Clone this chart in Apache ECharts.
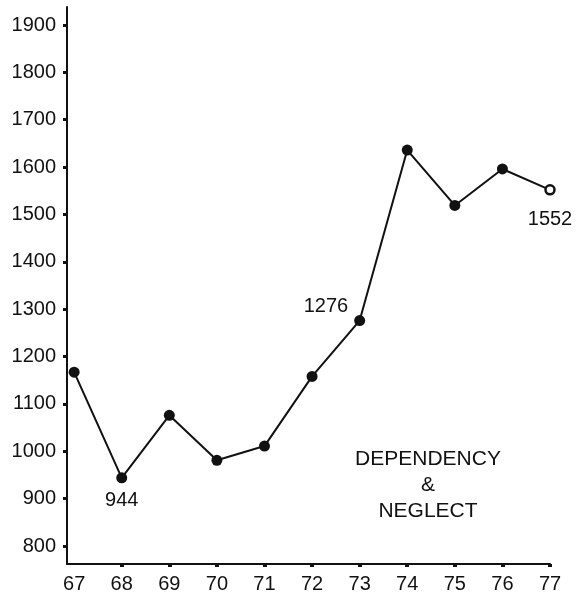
<!DOCTYPE html>
<html lang="en">
<head>
  <meta charset="UTF-8">
  <title>Dependency & Neglect</title>
  <script src="https://cdn.jsdelivr.net/npm/echarts@6/dist/echarts.min.js"></script>
</head>
<body style="margin:0;background:#fff">
<div id="main" style="width: 576px;height: 595px"></div>
<script>
  // years (x axis)
  const years = [67, 68, 69, 70, 71, 72, 73, 74, 75, 76, 77];
  // cases per year (labelled points use the printed number)
  const cases = [1167, 944, 1076, 981, 1011, 1158, 1276, 1636, 1519, 1596, 1552];
  // which points carry a printed value
  const shownLabels = ['', '944', '', '', '', '', '1276', '', '', '', '1552'];
  const yTicks = [800, 900, 1000, 1100, 1200, 1300, 1400, 1500, 1600, 1700, 1800, 1900];
  const xTickMarks = [68, 69, 70, 71, 72, 73, 74, 75, 76, 77];

  const font = '"Liberation Sans", Arial, sans-serif';
  const ink = '#111';

  const labelPos = {
    1: { position: 'bottom', distance: 7 },
    6: { position: 'left', offset: [-2, -14], distance: 4 },
    10: { position: 'bottom', distance: 14 }
  };

  const seriesData = cases.map(function (v, i) {
    const item = { value: [years[i], v] };
    if (shownLabels[i]) {
      item.label = Object.assign({
        show: true,
        formatter: shownLabels[i],
        color: ink,
        fontSize: 20,
        fontFamily: font
      }, labelPos[i]);
    }
    if (i === cases.length - 1) {
      item.symbolSize = 9;
      item.itemStyle = { color: '#fff', borderColor: ink, borderWidth: 2.5 };
    }
    return item;
  });

  const chart = echarts.init(document.getElementById('main'));
  chart.setOption({
    animation: false,
    backgroundColor: '#fff',
    grid: { left: 67, right: 26, top: 7, bottom: 31, containLabel: false },
    xAxis: {
      type: 'value',
      min: 66.85,
      max: 77,
      axisLine: { lineStyle: { color: ink, width: 2 } },
      axisTick: { show: true, length: 3, customValues: xTickMarks, lineStyle: { color: ink, width: 4 } },
      axisLabel: { color: ink, fontSize: 20, fontFamily: font, margin: 10, customValues: years },
      splitLine: { show: false }
    },
    yAxis: {
      type: 'value',
      min: 762,
      max: 1938,
      axisLine: { show: true, lineStyle: { color: ink, width: 2 } },
      axisTick: { show: true, length: 4, customValues: yTicks, lineStyle: { color: ink, width: 3 } },
      axisLabel: {
        color: ink, fontSize: 20, fontFamily: font, margin: 11, customValues: yTicks,
        formatter: function (v) { return String(v); }
      },
      splitLine: { show: false }
    },
    series: [{
      type: 'line',
      data: seriesData,
      symbol: 'circle',
      symbolSize: 11,
      itemStyle: { color: ink },
      lineStyle: { color: ink, width: 2 },
      label: { show: false }
    }],
    graphic: [{
      type: 'text',
      x: 428,
      y: 446,
      style: {
        text: 'DEPENDENCY\n&\nNEGLECT',
        textAlign: 'center',
        textVerticalAlign: 'top',
        fill: ink,
        font: '21px ' + font,
        lineHeight: 26
      }
    }]
  });
</script>
</body>
</html>
